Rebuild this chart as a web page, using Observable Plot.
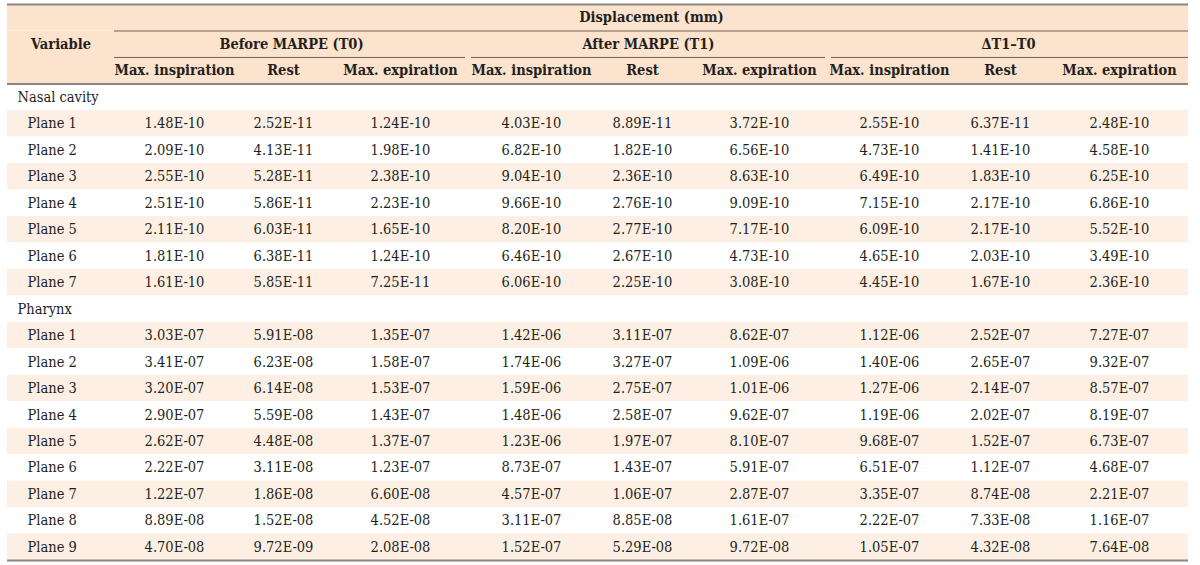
<!DOCTYPE html>
<html><head><meta charset="utf-8">
<script src="https://cdn.jsdelivr.net/npm/d3@7"></script>
<script src="https://cdn.jsdelivr.net/npm/@observablehq/plot@0.6"></script>
<style>body{margin:0;background:#fff}</style>
</head><body><div id="chart"></div>
<script>
// ---------- data ----------
const title = "Displacement (mm)";
const firstHeader = "Variable";
const groups = ["Before MARPE (T0)", "After MARPE (T1)", "ΔT1–T0"];
const measures = ["Max. inspiration", "Rest", "Max. expiration"];
const sections = ["Nasal cavity", "Pharynx"];
const nasalPlanes = ["Plane 1","Plane 2","Plane 3","Plane 4","Plane 5","Plane 6","Plane 7"];
const pharynxPlanes = ["Plane 1","Plane 2","Plane 3","Plane 4","Plane 5","Plane 6","Plane 7","Plane 8","Plane 9"];

// [Max. inspiration, Rest, Max. expiration] per plane
const nasalT0 = [
  [1.48e-10, 2.52e-11, 1.24e-10],
  [2.09e-10, 4.13e-11, 1.98e-10],
  [2.55e-10, 5.28e-11, 2.38e-10],
  [2.51e-10, 5.86e-11, 2.23e-10],
  [2.11e-10, 6.03e-11, 1.65e-10],
  [1.81e-10, 6.38e-11, 1.24e-10],
  [1.61e-10, 5.85e-11, 7.25e-11]
];
const nasalT1 = [
  [4.03e-10, 8.89e-11, 3.72e-10],
  [6.82e-10, 1.82e-10, 6.56e-10],
  [9.04e-10, 2.36e-10, 8.63e-10],
  [9.66e-10, 2.76e-10, 9.09e-10],
  [8.20e-10, 2.77e-10, 7.17e-10],
  [6.46e-10, 2.67e-10, 4.73e-10],
  [6.06e-10, 2.25e-10, 3.08e-10]
];
const nasalDelta = [
  [2.55e-10, 6.37e-11, 2.48e-10],
  [4.73e-10, 1.41e-10, 4.58e-10],
  [6.49e-10, 1.83e-10, 6.25e-10],
  [7.15e-10, 2.17e-10, 6.86e-10],
  [6.09e-10, 2.17e-10, 5.52e-10],
  [4.65e-10, 2.03e-10, 3.49e-10],
  [4.45e-10, 1.67e-10, 2.36e-10]
];
const pharynxT0 = [
  [3.03e-07, 5.91e-08, 1.35e-07],
  [3.41e-07, 6.23e-08, 1.58e-07],
  [3.20e-07, 6.14e-08, 1.53e-07],
  [2.90e-07, 5.59e-08, 1.43e-07],
  [2.62e-07, 4.48e-08, 1.37e-07],
  [2.22e-07, 3.11e-08, 1.23e-07],
  [1.22e-07, 1.86e-08, 6.60e-08],
  [8.89e-08, 1.52e-08, 4.52e-08],
  [4.70e-08, 9.72e-09, 2.08e-08]
];
const pharynxT1 = [
  [1.42e-06, 3.11e-07, 8.62e-07],
  [1.74e-06, 3.27e-07, 1.09e-06],
  [1.59e-06, 2.75e-07, 1.01e-06],
  [1.48e-06, 2.58e-07, 9.62e-07],
  [1.23e-06, 1.97e-07, 8.10e-07],
  [8.73e-07, 1.43e-07, 5.91e-07],
  [4.57e-07, 1.06e-07, 2.87e-07],
  [3.11e-07, 8.85e-08, 1.61e-07],
  [1.52e-07, 5.29e-08, 9.72e-08]
];
const pharynxDelta = [
  [1.12e-06, 2.52e-07, 7.27e-07],
  [1.40e-06, 2.65e-07, 9.32e-07],
  [1.27e-06, 2.14e-07, 8.57e-07],
  [1.19e-06, 2.02e-07, 8.19e-07],
  [9.68e-07, 1.52e-07, 6.73e-07],
  [6.51e-07, 1.12e-07, 4.68e-07],
  [3.35e-07, 8.74e-08, 2.21e-07],
  [2.22e-07, 7.33e-08, 1.16e-07],
  [1.05e-07, 4.32e-08, 7.64e-08]
];

// ---------- layout (column widths in px, like a table's colgroup) ----------
const colWidths = [107, 120, 98, 136, 126, 96, 138, 122, 100, 138];
const edges = [0];
colWidths.forEach(w => edges.push(edges[edges.length - 1] + w));
const total = edges[edges.length - 1];
const center = i => (edges[i] + edges[i + 1]) / 2;

const headerBg = "#fce3cd";
const stripeBg = "#fdefe3";
const ink = "#231f20";
const borderGray = "#8a8580";
const lineBrown = "#6e5f55";

// ---------- rows ----------
const sectionData = [
  {name: sections[0], planes: nasalPlanes, vals: [nasalT0, nasalT1, nasalDelta]},
  {name: sections[1], planes: pharynxPlanes, vals: [pharynxT0, pharynxT1, pharynxDelta]}
];
const headerKeys = ["h1", "h2", "h3"];
const rowKeys = [...headerKeys];
const sectionRows = [];
const planeRows = [];
const cells = [];
const fmt = v => {
  const [m, e] = v.toExponential(2).split("e");
  const n = Math.abs(+e);
  return m + "E" + (+e < 0 ? "-" : "+") + String(n).padStart(2, "0");
};
for (const s of sectionData) {
  rowKeys.push(s.name);
  sectionRows.push({key: s.name, label: s.name});
  s.planes.forEach((p, i) => {
    const key = s.name + "|" + p;
    rowKeys.push(key);
    planeRows.push({key, label: p, striped: i % 2 === 0});
    s.vals.forEach((g, gi) => {
      g[i].forEach((v, mi) => {
        cells.push({key, col: 1 + gi * 3 + mi, text: fmt(v)});
      });
    });
  });
}

const H = 565, mt = 4, mb = 5;
const bw = (H - mt - mb) / rowKeys.length;

const subHeaders = [];
groups.forEach((g, gi) => measures.forEach((m, mi) => subHeaders.push({col: 1 + gi * 3 + mi, text: m})));
const groupHeaders = groups.map((g, gi) => ({
  text: g,
  x1: edges[1 + gi * 3] + (gi > 0 ? 3 : 0),
  x2: edges[4 + gi * 3] - (gi < groups.length - 1 ? 3 : 0),
  cx: (edges[1 + gi * 3] + edges[4 + gi * 3]) / 2
}));

const font = "'DejaVu Serif Condensed', 'DejaVu Serif', serif";
const fs = 14.5;

const chart = Plot.plot({
  width: 1200,
  height: H,
  marginLeft: 7,
  marginRight: 12,
  marginTop: mt,
  marginBottom: mb,
  x: {type: "linear", domain: [0, total], axis: null},
  y: {type: "band", domain: rowKeys, padding: 0, round: false, axis: null},
  style: {fontFamily: font, fontStretch: "condensed", fontSize: fs + "px", color: ink, background: "white"},
  marks: [
    // header background
    Plot.barX(headerKeys, {y: d => d, x1: 0, x2: total, fill: headerBg}),
    // striped rows
    Plot.barX(planeRows.filter(d => d.striped), {y: "key", x1: 0, x2: total, fill: stripeBg}),
    // rules
    Plot.ruleY(["h1"], {y: d => d, x1: 0, x2: total, dy: -bw / 2, stroke: borderGray, strokeWidth: 2}),
    Plot.ruleY(["h1"], {y: d => d, x1: edges[1], x2: total, dy: bw / 2, stroke: lineBrown, strokeWidth: 1}),
    Plot.ruleY(groupHeaders, {y: () => "h2", x1: "x1", x2: "x2", dy: bw / 2, stroke: lineBrown, strokeWidth: 1}),
    Plot.ruleY(["h3"], {y: d => d, x1: 0, x2: total, dy: bw / 2, stroke: borderGray, strokeWidth: 2}),
    Plot.ruleY([rowKeys[rowKeys.length - 1]], {y: d => d, x1: 0, x2: total, dy: bw / 2, stroke: borderGray, strokeWidth: 2}),
    // header texts
    Plot.text([firstHeader], {x: center(0), y: () => "h2", text: d => d, fontWeight: "bold", fill: ink}),
    Plot.text([title], {x: (edges[1] + total) / 2, y: () => "h1", text: d => d, fontWeight: "bold", fill: ink}),
    Plot.text(groupHeaders, {x: "cx", y: () => "h2", text: "text", fontWeight: "bold", fill: ink}),
    Plot.text(subHeaders, {x: d => center(d.col), y: () => "h3", text: "text", fontWeight: "bold", fill: ink}),
    // body
    Plot.text(sectionRows, {x: 0, y: "key", text: "label", textAnchor: "start", dx: 10, fill: ink}),
    Plot.text(planeRows, {x: 0, y: "key", text: "label", textAnchor: "start", dx: 20, fill: ink}),
    Plot.text(cells, {x: d => center(d.col), y: "key", text: "text", fill: ink})
  ]
});
document.getElementById("chart").appendChild(chart);
</script>
</body></html>
